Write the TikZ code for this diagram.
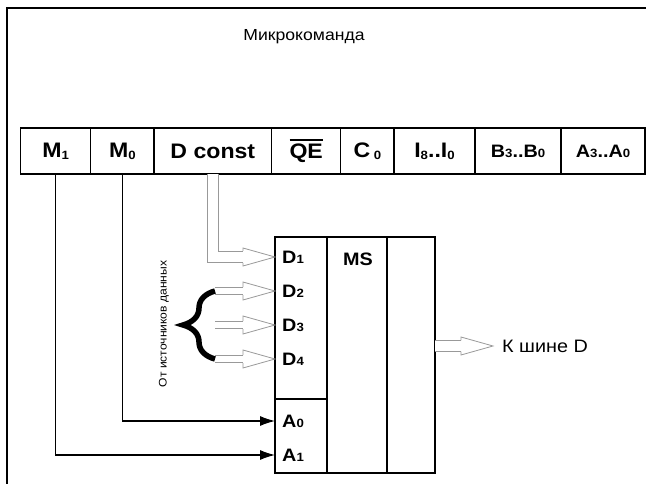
\documentclass[tikz,border=0pt]{standalone}
\usepackage{fontspec}
\setmainfont{Liberation Sans}[FakeStretch=1.1]
\usepackage{tikz}
\usetikzlibrary{arrows.meta, positioning, decorations.pathreplacing}
\newcommand{\ix}[2][-2pt]{\raisebox{#1}{\fontsize{12}{12}\selectfont #2}}
\newcommand{\ovl}[1]{\leavevmode\vbox{\hrule height 1.4pt \kern 3pt \hbox{#1}}}
\tikzset{
    field/.style={rectangle, draw, line width=1.1pt, outer sep=0pt, inner sep=0pt, minimum height=46pt, font=\fontsize{21}{21}\selectfont\bfseries},
    part/.style={rectangle, draw, line width=1.2pt, outer sep=0pt, inner sep=0pt},
    pinlbl/.style={anchor=west, inner xsep=7pt, inner ysep=0pt, font=\fontsize{18}{18}\selectfont\bfseries},
    arrow/.style={-{Latex[length=15pt, width=10pt]}, line width=1.1pt},
    bus/.style={draw=gray!80, double=white, double distance=#1, line width=0.8pt, shorten >=32pt},
    caption/.style={font=\fontsize{16}{16}\selectfont},
    pics/bushead/.style={code={\draw[gray!80, line width=0.8pt] (-32,#1) -- (-32,9) -- (0,0) -- (-32,-9) -- (-32,-#1);}},
}
\begin{document}
\begin{tikzpicture}[x=1pt, y=-1pt]
    \useasboundingbox (0,0) rectangle (646,484);
    % outer frame
    \draw[line width=2pt] (7.4,484) |- (646,8);
    \node[caption] (title) at (304,37) {Микрокоманда};

    % microinstruction fields
    \node[field, minimum width=70pt, anchor=north west] (m1) at (20.6,128) {M\ix{1}};
    \node[field, minimum width=63.4pt, right=0pt of m1] (m0) {M\ix{0}};
    \node[field, minimum width=117.7pt, right=0pt of m0] (dc) {D const};
    \node[field, minimum width=69pt, right=0pt of dc] (qe) {\ovl{QE}};
    \node[field, minimum width=53.3pt, right=0pt of qe] (c0) {C\,\ix{0}};
    \node[field, minimum width=81pt, right=0pt of c0] (ii) {I\ix{8}..I\ix{0}};
    \node[field, minimum width=86pt, right=0pt of ii, font=\fontsize{18}{18}\selectfont\bfseries] (bb) {B\ix[0pt]{3}..B\ix[0pt]{0}};
    \node[field, minimum width=84pt, right=0pt of bb, font=\fontsize{18}{18}\selectfont\bfseries] (aa) {A\ix[0pt]{3}..A\ix[0pt]{0}};

    % multiplexer
    \node[part, minimum width=52pt, minimum height=162pt, anchor=north west] (dpart) at (275,237) {};
    \node[part, minimum width=52pt, minimum height=74pt, below=0pt of dpart] (apart) {};
    \node[part, minimum width=60pt, minimum height=236pt, anchor=north west] (mscol) at (dpart.north east) {};
    \node[part, minimum width=48pt, minimum height=236pt, right=0pt of mscol] (outcol) {};
    \node[font=\fontsize{18}{18}\selectfont\bfseries] (ms) at (358,259) {MS};

    \node[pinlbl] (d1) at (275,257) {D\ix[0pt]{1}};
    \node[pinlbl] (d2) at (275,291) {D\ix[0pt]{2}};
    \node[pinlbl] (d3) at (275,325) {D\ix[0pt]{3}};
    \node[pinlbl] (d4) at (275,359) {D\ix[0pt]{4}};
    \node[pinlbl] (a0) at (275,421) {A\ix[0pt]{0}};
    \node[pinlbl] (a1) at (275,455) {A\ix[0pt]{1}};

    % address lines
    \draw[arrow] (m1.south) |- (a1.west);
    \draw[arrow] (m0.south) |- (a0.west);

    % constant
    \draw[bus=10.4pt] (dc.south) |- (d1.west);
    \pic at (d1.west) {bushead=6};

    % data sources
    \coordinate (s2) at ([xshift=-60pt]d2.west);
    \coordinate (s3) at ([xshift=-60pt]d3.west);
    \coordinate (s4) at ([xshift=-60pt]d4.west);
    \draw[bus=6.4pt] (s2) -- (d2.west);
    \pic at (d2.west) {bushead=4};
    \draw[bus=6.4pt] (s3) -- (d3.west);
    \pic at (d3.west) {bushead=4};
    \draw[bus=6.4pt] (s4) -- (d4.west);
    \pic at (d4.west) {bushead=4};
    \draw[line width=5.5pt, decorate, decoration={brace, amplitude=32pt}] (s4) -- (s2);
    \node[rotate=90, font=\fontsize{11}{11}\selectfont] (src) at (164,324) {От источников данных};

    % output
    \node[caption, anchor=west, inner xsep=9pt, font=\fontsize{18}{18}\selectfont] (kd) at (493,346) {К шине D};
    \draw[bus=10pt] (outcol.east |- kd.west) -- (kd.west);
    \pic at (kd.west) {bushead=5.6};
\end{tikzpicture}
\end{document}
